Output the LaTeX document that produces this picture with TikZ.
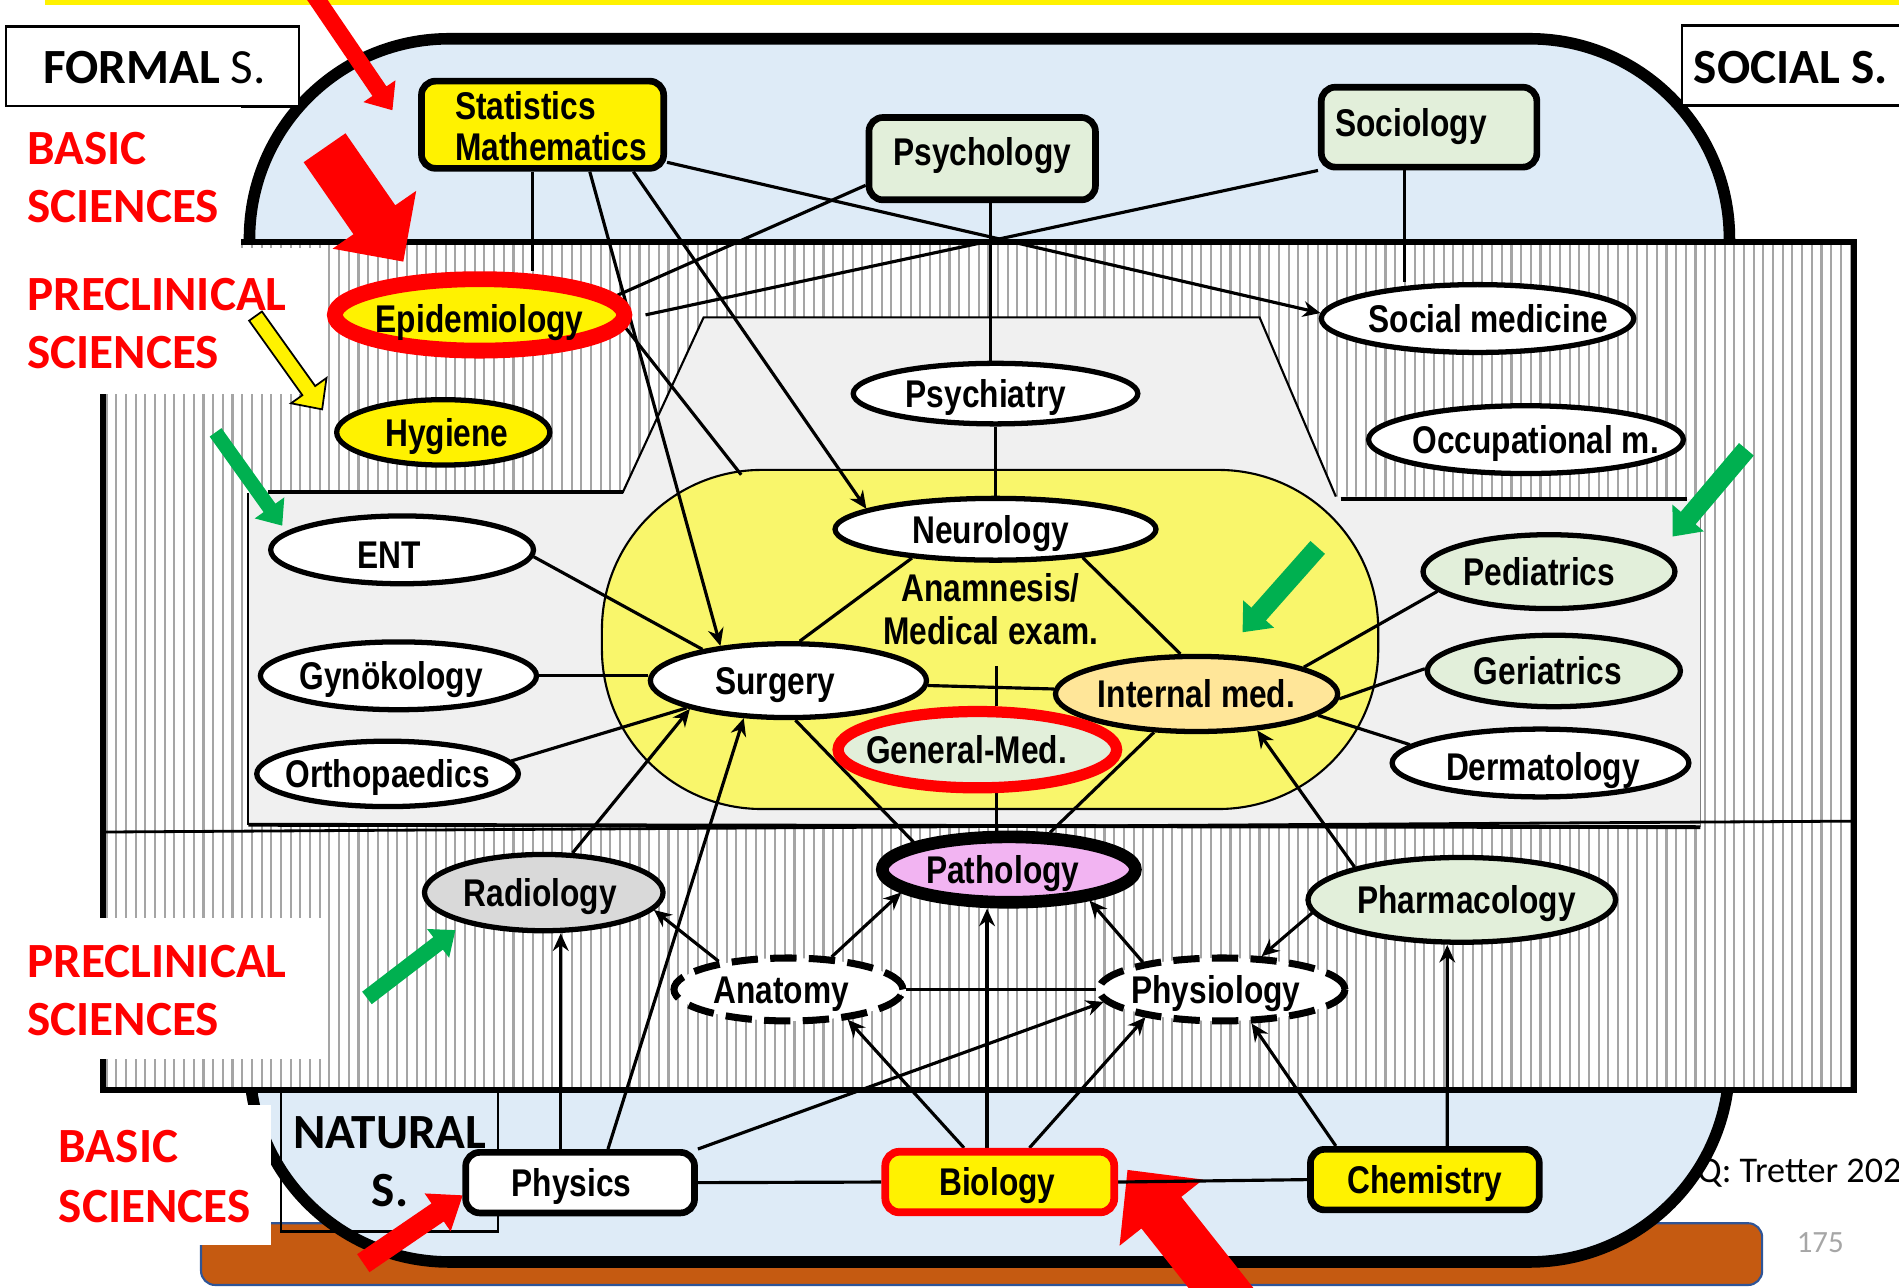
\documentclass[tikz,border=0pt]{standalone}
\usepackage{fontspec}
\usetikzlibrary{calc,arrows.meta,shapes.geometric}
\newfontfamily\nodefont[FakeStretch=0.82]{Liberation Sans}
\newfontfamily\labfont{Carlito}

\definecolor{skyfill}{RGB}{222,235,247}
\definecolor{greyfill}{RGB}{240,240,240}
\definecolor{coreyellow}{RGB}{249,246,107}
\definecolor{greenfill}{RGB}{226,239,218}
\definecolor{peach}{RGB}{255,230,153}
\definecolor{pinkfill}{RGB}{242,180,242}
\definecolor{radgrey}{RGB}{217,217,217}
\definecolor{arrgreen}{RGB}{0,176,80}
\definecolor{brownbar}{RGB}{197,90,17}
\definecolor{barblue}{RGB}{47,85,151}
\definecolor{stripegrey}{RGB}{165,165,165}
\definecolor{pagegrey}{RGB}{166,166,166}

\newlength\pxu
\setlength\pxu{0.012111cm}

% centred label of zero width, optionally moved sideways
\newcommand\nt[2][0pt]{\makebox[0pt]{\hspace*{#1}#2\hspace*{-#1}}}

% filled block arrow: tail, tip, half shaft width, half head width, head length, style
\newcommand\blockarrow[6]{%
  \coordinate (bat) at #1;
  \coordinate (bah) at #2;
  \coordinate (bab) at ($(bah)!#5*0.012111cm!(bat)$);
  \path[#6] ($(bat)!#3*0.012111cm!90:(bah)$)
    -- ($(bab)!#3*0.012111cm!90:(bah)$)
    -- ($(bab)!#4*0.012111cm!90:(bah)$)
    -- (bah)
    -- ($(bab)!#4*0.012111cm!-90:(bah)$)
    -- ($(bab)!#3*0.012111cm!-90:(bah)$)
    -- ($(bat)!#3*0.012111cm!-90:(bah)$) -- cycle;}

\pgfdeclarelayer{back}
\pgfdeclarelayer{wires}
\pgfsetlayers{back,wires,main}

\tikzset{
  sz/.style 2 args={minimum width=#1*\pxu, minimum height=#2*\pxu},
  nodetext/.style={font=\nodefont\bfseries\fontsize{11}{12}\selectfont, inner sep=0pt},
  oneline/.style={text height=7.9pt, text depth=0pt},
  ov/.style={nodetext, oneline, ellipse, draw=black, line width=1.5pt, fill=white},
  dashov/.style={ov, line width=2pt, dash pattern=on 7.5pt off 3.5pt},
  bx/.style={nodetext, rectangle, rounded corners=4pt, draw=black, line width=1.9pt, fill=white},
  con/.style={line width=0.9pt, draw=black},
  arr/.style={con, -{Stealth[length=5pt,width=4.5pt]}},
  lab/.style={font=\labfont\bfseries\fontsize{14}{16}\selectfont, text=red, anchor=base west, inner sep=0pt},
  hdr/.style={font=\labfont\fontsize{14}{16}\selectfont, anchor=base west, inner sep=0pt},
  hdrc/.style={font=\labfont\bfseries\fontsize{14}{16}\selectfont, anchor=base, inner sep=0pt},
  plain/.style={nodetext, anchor=base},
  stripe/.style={line width=0.6pt, draw=stripegrey},
}

\begin{document}
\begin{tikzpicture}[x=0.012111cm, y=-0.012111cm]
\useasboundingbox (0,0) rectangle (1568,1063);

% ---------------- nodes ----------------
% basic sciences (boxes)
\node[bx, sz={200}{72}, fill=yellow, text height=5pt, text depth=7.76pt] (stat) at (448,103)
  {\hspace*{14\pxu}\renewcommand\arraystretch{0.97}\begin{tabular}[t]{@{}l@{}}Statistics\\Mathematics\end{tabular}};
\node[bx, oneline, sz={187}{68}, fill=greenfill] (psych) at (811,131) {\raisebox{6\pxu}{Psychology}};
\node[bx, oneline, sz={178}{66}, fill=greenfill] (socio) at (1180,105) {\nt[-15\pxu]{\raisebox{4\pxu}{Sociology}}};
\node[bx, oneline, sz={189}{50}] (phys) at (479,976.5) {\nt[-7\pxu]{Physics}};
\node[bx, oneline, sz={189}{50}, fill=yellow, draw=red, line width=2.2pt] (bio) at (825.5,976) {\nt[-2\pxu]{Biology}};
\node[bx, oneline, sz={189}{50}, fill=yellow] (chem) at (1176.5,974) {Chemistry};

% preclinical and clinical subjects (ovals)
\node[ov, sz={239}{59}, fill=yellow, draw=red, line width=4.5pt] (epi) at (396,260) {\nt{\raisebox{-3\pxu}{Epidemiology}}};
\node[ov, sz={176}{54}, fill=yellow] (hyg) at (366,357) {\nt[3\pxu]{Hygiene}};
\node[ov, sz={258}{56}] (socmed) at (1220,263) {\nt[9\pxu]{Social medicine}};
\node[ov, sz={260}{56}] (occ) at (1260,363) {\nt[8\pxu]{Occupational m.}};
\node[ov, sz={235}{50}] (psychiatry) at (822,325) {\nt[-8\pxu]{Psychiatry}};
\node[ov, sz={265}{51}] (neuro) at (822,437) {\nt[-4\pxu]{Neurology}};
\node[ov, sz={217}{56}] (ent) at (332,454) {\nt[-11\pxu]{\raisebox{-4\pxu}{ENT}}};
\node[ov, sz={228}{56}] (gyn) at (329,558) {\nt[-6\pxu]{Gynökology}};
\node[ov, sz={216}{54}] (ortho) at (320,639) {\nt{Orthopaedics}};
\node[ov, sz={228}{61}] (surg) at (651,562) {\nt[-11\pxu]{Surgery}};
\node[ov, sz={233}{62}, fill=peach] (intmed) at (988,573) {\nt{Internal med.}};
\node[ov, sz={230}{63}, fill=greenfill, draw=red, line width=3.2pt] (genmed) at (807,619) {\nt[-9\pxu]{General-Med.}};
\node[ov, sz={208}{61}, fill=greenfill] (pedi) at (1279,472) {\nt[-8\pxu]{Pediatrics}};
\node[ov, sz={209}{59}, fill=greenfill] (geri) at (1283,554) {\nt[-5\pxu]{Geriatrics}};
\node[ov, sz={245}{56}] (derm) at (1272,630) {\nt[2\pxu]{\raisebox{-3\pxu}{Dermatology}}};
\node[ov, sz={209}{54}, fill=pinkfill, line width=3.6pt] (path) at (833,718) {\nt[-5\pxu]{Pathology}};
\node[ov, sz={197}{63}, fill=radgrey] (radio) at (449,737) {\nt[-3\pxu]{Radiology}};
\node[ov, sz={254}{70}, fill=greenfill] (pharm) at (1207,743) {\nt[4\pxu]{Pharmacology}};
\node[dashov, sz={189}{52}] (anat) at (651,817) {\nt[-6\pxu]{Anatomy}};
\node[dashov, sz={203}{52}] (physio) at (1009,817) {\nt[-5\pxu]{Physiology}};

\node[plain] (examA) at (818,497) {Anamnesis/};
\node[plain] (examB) at (818,532) {Medical exam.};
\coordinate (examfoot) at (823,550);
\coordinate (coreNW) at (612,392);

% ---------------- background ----------------
\begin{pgfonlayer}{back}
  % footer bar and citation behind the outer frame
  \draw[fill=brownbar, draw=barblue, line width=0.6pt, rounded corners=4pt] (166,1010) rectangle (1455,1061);
  \node[anchor=base west, font=\labfont\fontsize{10.3}{12}\selectfont, inner sep=0pt] (source) at (1401,976) {Q: Tretter 202};
  \node[anchor=base west, font=\labfont\fontsize{8.8}{10}\selectfont, text=pagegrey, inner sep=0pt] (pageno) at (1483,1034) {175};

  % outer frame of the basic sciences
  \draw[fill=skyfill, line width=3.3pt, rounded corners=2cm] (206,32) rectangle (1428,1042);

  % striped band of the preclinical sciences
  \fill[white] (85,200) rectangle (1531,900);
  \foreach \sx in {88.0,96.0,...,1530} {\draw[stripe] (\sx,200) -- (\sx,900);}
  \draw[line width=1.7pt] (199,200) -- (1531,200) -- (1531,900) -- (85,900) -- (85,206);

  % clinical area
  \fill[greyfill] (205,407) -- (514,407) -- (581,262) -- (1040,262) -- (1103,410)
     -- (1404,412) -- (1404,682) -- (205,682) -- cycle;
  \draw[line width=0.6pt] (514,407) -- (581,262) -- (1040,262) -- (1103,410);
  \draw[line width=1.1pt] (221,406) -- (514,406);
  \draw[line width=1.1pt] (1107,412) -- (1393,412);
  \draw[line width=0.6pt] (205,407) -- (205,681);
  \draw[line width=0.5pt, draw=gray] (1404,414) -- (1404,683);
  \draw[line width=1.1pt] (205,681) -- (1404,683);
  \draw[line width=0.8pt] (85,687) -- (1531,678);

  % core of medical practice
  \draw[fill=coreyellow, line width=0.6pt, rounded corners=1.6cm] (497,388) rectangle (1138,668);

  % top band
  \fill[yellow] (37,0) rectangle (1568,4.5);

  % side headings
  \draw[fill=white, line width=0.7pt] (5,22) rectangle (247,88);
  \draw[fill=white, line width=0.7pt] (1389,21) rectangle (1580,87);
  \node[hdr] (formal) at (35,69) {\bfseries FORMAL\mdseries\ S.};
  \node[hdr] (social) at (1398,69) {\bfseries SOCIAL S.};

  \fill[white] (0,88) rectangle (199,205);
  \fill[white] (0,205) rectangle (265,325);
  \fill[white] (0,758) rectangle (265,874);
  \fill[white] (0,912) rectangle (224,1028);
  \node[lab] (basicA) at (22,136) {BASIC};
  \node[lab] (basicB) at (22,184) {SCIENCES};
  \node[lab] (precA) at (22,256) {PRECLINICAL};
  \node[lab] (precB) at (22,304) {SCIENCES};
  \node[lab] (precC) at (22,807) {PRECLINICAL};
  \node[lab] (precD) at (22,855) {SCIENCES};
  \node[lab] (basicC) at (48,960) {BASIC};
  \node[lab] (basicD) at (48,1009) {SCIENCES};

  \draw[line width=0.7pt] (232,900) rectangle (411,1017);
  \node[hdrc] (natA) at (322,948) {NATURAL};
  \node[hdrc] (natB) at (322,996) {S.};

  % pointer arrows
  \blockarrow{(258,-6)}{(324,91)}{7}{16}{19}{fill=red}
  \blockarrow{(268,122)}{(333,216)}{21}{42}{42}{fill=red}
  \blockarrow{(300,1043)}{(382,987)}{9}{19}{25}{fill=red}
  \blockarrow{(1045,1110)}{(931,966)}{21}{44}{45}{fill=red}
  \blockarrow{(178,357)}{(233,434)}{6}{15}{18}{fill=arrgreen}
  \blockarrow{(1442,371)}{(1381,443)}{8}{17}{20}{fill=arrgreen}
  \blockarrow{(1088,452)}{(1026,522)}{8}{17}{20}{fill=arrgreen}
  \blockarrow{(303,824)}{(376,768)}{6.5}{15}{18}{fill=arrgreen}
  \blockarrow{(211,261)}{(266,338)}{6.5}{18}{19}{fill=yellow, draw=black, line width=0.5pt}
\end{pgfonlayer}

% ---------------- connectors ----------------
\begin{pgfonlayer}{wires}
  \draw[con] ([xshift=-8*\pxu]stat.south) -- ([xshift=44*\pxu]epi.north);
  \draw[arr] ([xshift=39*\pxu]stat.south) -- (surg.153);
  \draw[arr] ([xshift=75*\pxu]stat.south) -- (neuro.171);
  \draw[arr] ([yshift=-31*\pxu]stat.east) -- (socmed.178);
  \draw[con] ([yshift=-22*\pxu]psych.west) -- (epi.8);
  \draw[con] (socio.south west) -- ([xshift=11*\pxu]epi.east);
  \draw[con] ([xshift=7*\pxu]psych.south) -- ([xshift=-4*\pxu]psychiatry.north);
  \draw[con] ([xshift=-20*\pxu]socio.south) -- ([xshift=-60*\pxu]socmed.north);
  \draw[con] (psychiatry.south) -- (neuro.north);
  \draw[con] (epi.-5) -- (coreNW);
  \draw[con] (neuro.199) -- (surg.74);
  \draw[con] (neuro.-18) -- (intmed.112);
  \draw[con] (ent.-3) -- (surg.160);
  \draw[con] (gyn.east) -- ([yshift=4*\pxu]surg.west);
  \draw[con] (ortho.6) -- (surg.195);
  \draw[con] (surg.-2) -- (intmed.178);
  \draw[con] ([xshift=16*\pxu]genmed.north) -- (examfoot);
  \draw[con] ([xshift=16*\pxu]genmed.south) -- ([xshift=-10*\pxu]path.north);
  \draw[con] (surg.-80) -- (path.164);
  \draw[con] (intmed.222) -- (path.42);
  \draw[con] (intmed.14) -- (pedi.190);
  \draw[con] (intmed.-2) -- (geri.179);
  \draw[con] (intmed.-10) -- (derm.172);
  \draw[arr] (pharm.163) -- (intmed.-31);
  \draw[arr] (radio.54) -- (surg.196);
  \draw[arr] ([xshift=23*\pxu]phys.north) -- (surg.220);
  \draw[arr] ([xshift=-16*\pxu]phys.north) -- ([xshift=14*\pxu]radio.south);
  \draw[arr] (anat.158) -- (radio.-9);
  \draw[arr] (anat.37) -- (path.192);
  \draw[arr] (physio.161) -- (path.-21);
  \draw[arr] ([xshift=-10.5*\pxu]bio.north) -- ([xshift=-18*\pxu]path.south);
  \draw[con] (anat.east) -- (physio.west);
  \draw[arr] (phys.north east) -- (physio.186);
  \draw[arr] ([xshift=-29.5*\pxu]bio.north) -- (anat.-27);
  \draw[arr] ([xshift=24.5*\pxu]bio.north) -- (physio.200);
  \draw[arr] ([xshift=-73.5*\pxu]chem.north) -- (physio.-49);
  \draw[arr] ([xshift=18.5*\pxu]chem.north) -- ([xshift=-12*\pxu]pharm.south);
  \draw[arr] (pharm.185) -- (physio.40);
  \draw[con] (phys.east) -- (bio.west);
  \draw[con] (bio.east) -- (chem.west);
\end{pgfonlayer}
\end{tikzpicture}
\end{document}
